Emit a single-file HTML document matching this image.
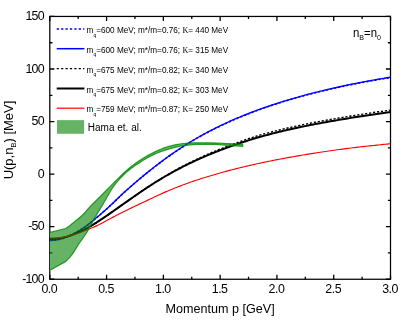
<!DOCTYPE html>
<html><head><meta charset="utf-8"><title>plot</title>
<style>
html,body{margin:0;padding:0;background:#fff;}
body{width:415px;height:321px;overflow:hidden;}
svg{display:block;will-change:transform;transform:translateZ(0);}
text{font-family:"Liberation Sans",sans-serif;fill:#000;}
.tl{font-size:12.4px;letter-spacing:-0.8px;}
.tx{font-size:12.4px;letter-spacing:-0.5px;}
.at{font-size:12px;}
.lg{font-size:8.2px;}
.sub{font-size:5px;}
</style></head><body>
<svg width="415" height="321" viewBox="0 0 415 321">
<rect x="0" y="0" width="415" height="321" fill="#fff"/>

<rect x="49.80" y="16.45" width="340.70" height="262.80" fill="none" stroke="#000" stroke-width="1.25"/>
<rect x="50.00" y="232.6" width="1.2" height="38.2" fill="#fff"/>
<path d="M49.80 279.25 v-4.60 M49.80 16.45 v4.60 M78.19 279.25 v-2.60 M78.19 16.45 v2.60 M106.58 279.25 v-4.60 M106.58 16.45 v4.60 M134.97 279.25 v-2.60 M134.97 16.45 v2.60 M163.37 279.25 v-4.60 M163.37 16.45 v4.60 M191.76 279.25 v-2.60 M191.76 16.45 v2.60 M220.15 279.25 v-4.60 M220.15 16.45 v4.60 M248.54 279.25 v-2.60 M248.54 16.45 v2.60 M276.93 279.25 v-4.60 M276.93 16.45 v4.60 M305.32 279.25 v-2.60 M305.32 16.45 v2.60 M333.72 279.25 v-4.60 M333.72 16.45 v4.60 M362.11 279.25 v-2.60 M362.11 16.45 v2.60 M390.50 279.25 v-4.60 M390.50 16.45 v4.60 M49.80 279.25 h4.60 M390.50 279.25 h-4.60 M49.80 252.97 h2.60 M390.50 252.97 h-2.60 M49.80 226.69 h4.60 M390.50 226.69 h-4.60 M49.80 200.41 h2.60 M390.50 200.41 h-2.60 M49.80 174.13 h4.60 M390.50 174.13 h-4.60 M49.80 147.85 h2.60 M390.50 147.85 h-2.60 M49.80 121.57 h4.60 M390.50 121.57 h-4.60 M49.80 95.29 h2.60 M390.50 95.29 h-2.60 M49.80 69.01 h4.60 M390.50 69.01 h-4.60 M49.80 42.73 h2.60 M390.50 42.73 h-2.60 M49.80 16.45 h4.60 M390.50 16.45 h-4.60" stroke="#000" stroke-width="1.3" fill="none"/>
<g fill="none" stroke-linejoin="round">
<path d="M49.80 240.41 L51.51 240.37 L53.22 240.27 L54.94 240.09 L56.65 239.85 L58.36 239.53 L60.07 239.15 L61.78 238.69 L63.50 238.17 L65.21 237.59 L66.92 236.94 L68.63 236.23 L70.34 235.45 L72.06 234.62 L73.77 233.74 L75.48 232.80 L77.19 231.81 L78.91 230.81 L80.62 229.78 L82.33 228.69 L84.04 227.54 L85.75 226.31 L87.47 225.03 L89.18 223.72 L90.89 222.37 L92.60 220.99 L94.31 219.58 L96.03 218.15 L97.74 216.70 L99.45 215.24 L101.16 213.76 L102.87 212.28 L104.59 210.79 L106.30 209.28 L108.01 207.75 L109.72 206.18 L111.43 204.58 L113.15 202.96 L114.86 201.31 L116.57 199.66 L118.28 198.00 L119.99 196.36 L121.71 194.73 L123.42 193.12 L125.13 191.55 L126.84 190.01 L128.55 188.50 L130.27 186.99 L131.98 185.49 L133.69 184.01 L135.40 182.54 L137.12 181.08 L138.83 179.64 L140.54 178.20 L142.25 176.79 L143.96 175.38 L145.68 173.98 L147.39 172.60 L149.10 171.23 L150.81 169.87 L152.52 168.52 L154.24 167.18 L155.95 165.86 L157.66 164.54 L159.37 163.24 L161.08 161.96 L162.80 160.68 L164.51 159.42 L166.22 158.18 L167.93 156.94 L169.64 155.73 L171.36 154.52 L173.07 153.33 L174.78 152.15 L176.49 150.99 L178.20 149.85 L179.92 148.71 L181.63 147.59 L183.34 146.49 L185.05 145.40 L186.76 144.32 L188.48 143.26 L190.19 142.21 L191.90 141.18 L193.61 140.16 L195.33 139.15 L197.04 138.16 L198.75 137.19 L200.46 136.22 L202.17 135.27 L203.89 134.34 L205.60 133.41 L207.31 132.50 L209.02 131.60 L210.73 130.71 L212.45 129.83 L214.16 128.96 L215.87 128.11 L217.58 127.27 L219.29 126.43 L221.01 125.61 L222.72 124.80 L224.43 124.00 L226.14 123.21 L227.85 122.43 L229.57 121.66 L231.28 120.90 L232.99 120.14 L234.70 119.40 L236.41 118.67 L238.13 117.94 L239.84 117.23 L241.55 116.52 L243.26 115.83 L244.97 115.14 L246.69 114.46 L248.40 113.78 L250.11 113.12 L251.82 112.46 L253.54 111.81 L255.25 111.17 L256.96 110.54 L258.67 109.91 L260.38 109.29 L262.10 108.68 L263.81 108.08 L265.52 107.48 L267.23 106.89 L268.94 106.30 L270.66 105.73 L272.37 105.15 L274.08 104.59 L275.79 104.03 L277.50 103.48 L279.22 102.93 L280.93 102.39 L282.64 101.86 L284.35 101.33 L286.06 100.81 L287.78 100.30 L289.49 99.79 L291.20 99.28 L292.91 98.78 L294.62 98.29 L296.34 97.80 L298.05 97.32 L299.76 96.84 L301.47 96.37 L303.18 95.90 L304.90 95.44 L306.61 94.98 L308.32 94.53 L310.03 94.08 L311.75 93.64 L313.46 93.20 L315.17 92.76 L316.88 92.33 L318.59 91.91 L320.31 91.49 L322.02 91.07 L323.73 90.66 L325.44 90.26 L327.15 89.85 L328.87 89.45 L330.58 89.06 L332.29 88.67 L334.00 88.28 L335.71 87.90 L337.43 87.52 L339.14 87.15 L340.85 86.78 L342.56 86.41 L344.27 86.05 L345.99 85.69 L347.70 85.34 L349.41 84.99 L351.12 84.64 L352.83 84.30 L354.55 83.96 L356.26 83.62 L357.97 83.29 L359.68 82.96 L361.39 82.63 L363.11 82.31 L364.82 81.99 L366.53 81.67 L368.24 81.36 L369.96 81.05 L371.67 80.74 L373.38 80.44 L375.09 80.14 L376.80 79.84 L378.52 79.54 L380.23 79.25 L381.94 78.96 L383.65 78.67 L385.36 78.39 L387.08 78.11 L388.79 77.83 L390.50 77.55" stroke="#0000ff" stroke-width="1.6" stroke-dasharray="2.2 1.9"/>
<path d="M49.80 240.41 L51.51 240.37 L53.22 240.27 L54.94 240.09 L56.65 239.84 L58.36 239.52 L60.07 239.14 L61.78 238.68 L63.50 238.16 L65.21 237.57 L66.92 236.92 L68.63 236.21 L70.34 235.43 L72.06 234.60 L73.77 233.71 L75.48 232.77 L77.19 231.79 L78.91 230.78 L80.62 229.75 L82.33 228.66 L84.04 227.51 L85.75 226.27 L87.47 224.99 L89.18 223.68 L90.89 222.33 L92.60 220.94 L94.31 219.54 L96.03 218.10 L97.74 216.65 L99.45 215.19 L101.16 213.71 L102.87 212.22 L104.59 210.73 L106.30 209.22 L108.01 207.69 L109.72 206.12 L111.43 204.52 L113.15 202.89 L114.86 201.24 L116.57 199.59 L118.28 197.93 L119.99 196.29 L121.71 194.65 L123.42 193.05 L125.13 191.47 L126.84 189.94 L128.55 188.41 L130.27 186.91 L131.98 185.41 L133.69 183.92 L135.40 182.45 L137.12 180.99 L138.83 179.55 L140.54 178.11 L142.25 176.69 L143.96 175.28 L145.68 173.88 L147.39 172.50 L149.10 171.13 L150.81 169.77 L152.52 168.42 L154.24 167.08 L155.95 165.75 L157.66 164.43 L159.37 163.13 L161.08 161.84 L162.80 160.57 L164.51 159.31 L166.22 158.06 L167.93 156.82 L169.64 155.60 L171.36 154.40 L173.07 153.20 L174.78 152.03 L176.49 150.86 L178.20 149.71 L179.92 148.58 L181.63 147.46 L183.34 146.35 L185.05 145.26 L186.76 144.18 L188.48 143.12 L190.19 142.07 L191.90 141.03 L193.61 140.01 L195.33 139.00 L197.04 138.01 L198.75 137.03 L200.46 136.07 L202.17 135.12 L203.89 134.18 L205.60 133.25 L207.31 132.34 L209.02 131.43 L210.73 130.54 L212.45 129.66 L214.16 128.80 L215.87 127.94 L217.58 127.09 L219.29 126.26 L221.01 125.44 L222.72 124.62 L224.43 123.82 L226.14 123.03 L227.85 122.24 L229.57 121.47 L231.28 120.71 L232.99 119.96 L234.70 119.21 L236.41 118.48 L238.13 117.75 L239.84 117.03 L241.55 116.33 L243.26 115.63 L244.97 114.94 L246.69 114.25 L248.40 113.58 L250.11 112.91 L251.82 112.25 L253.54 111.60 L255.25 110.96 L256.96 110.33 L258.67 109.70 L260.38 109.08 L262.10 108.46 L263.81 107.86 L265.52 107.26 L267.23 106.66 L268.94 106.08 L270.66 105.50 L272.37 104.93 L274.08 104.36 L275.79 103.80 L277.50 103.25 L279.22 102.70 L280.93 102.16 L282.64 101.62 L284.35 101.09 L286.06 100.57 L287.78 100.05 L289.49 99.54 L291.20 99.03 L292.91 98.53 L294.62 98.04 L296.34 97.55 L298.05 97.06 L299.76 96.58 L301.47 96.11 L303.18 95.64 L304.90 95.17 L306.61 94.72 L308.32 94.26 L310.03 93.81 L311.75 93.37 L313.46 92.93 L315.17 92.49 L316.88 92.06 L318.59 91.63 L320.31 91.21 L322.02 90.79 L323.73 90.38 L325.44 89.97 L327.15 89.57 L328.87 89.17 L330.58 88.77 L332.29 88.38 L334.00 87.99 L335.71 87.61 L337.43 87.23 L339.14 86.85 L340.85 86.48 L342.56 86.11 L344.27 85.75 L345.99 85.39 L347.70 85.03 L349.41 84.68 L351.12 84.33 L352.83 83.99 L354.55 83.65 L356.26 83.31 L357.97 82.97 L359.68 82.64 L361.39 82.31 L363.11 81.99 L364.82 81.67 L366.53 81.35 L368.24 81.03 L369.96 80.72 L371.67 80.41 L373.38 80.11 L375.09 79.80 L376.80 79.50 L378.52 79.20 L380.23 78.91 L381.94 78.62 L383.65 78.33 L385.36 78.04 L387.08 77.76 L388.79 77.48 L390.50 77.20" stroke="#0000ff" stroke-width="1.35"/>
<path d="M49.80 239.10 L51.51 239.07 L53.22 239.00 L54.94 238.87 L56.65 238.70 L58.36 238.47 L60.07 238.20 L61.78 237.88 L63.50 237.51 L65.21 237.09 L66.92 236.63 L68.63 236.12 L70.34 235.57 L72.06 234.97 L73.77 234.33 L75.48 233.65 L77.19 232.94 L78.91 232.22 L80.62 231.48 L82.33 230.69 L84.04 229.85 L85.75 228.94 L87.47 227.99 L89.18 227.00 L90.89 225.99 L92.60 224.95 L94.31 223.88 L96.03 222.80 L97.74 221.70 L99.45 220.58 L101.16 219.45 L102.87 218.31 L104.59 217.16 L106.30 216.00 L108.01 214.82 L109.72 213.63 L111.43 212.44 L113.15 211.24 L114.86 210.03 L116.57 208.83 L118.28 207.62 L119.99 206.40 L121.71 205.19 L123.42 203.98 L125.13 202.77 L126.84 201.56 L128.55 200.35 L130.27 199.15 L131.98 197.95 L133.69 196.76 L135.40 195.57 L137.12 194.39 L138.83 193.21 L140.54 192.04 L142.25 190.88 L143.96 189.73 L145.68 188.59 L147.39 187.45 L149.10 186.33 L150.81 185.22 L152.52 184.12 L154.24 183.03 L155.95 181.93 L157.66 180.83 L159.37 179.75 L161.08 178.68 L162.80 177.62 L164.51 176.58 L166.22 175.55 L167.93 174.53 L169.64 173.53 L171.36 172.54 L173.07 171.57 L174.78 170.61 L176.49 169.66 L178.20 168.72 L179.92 167.80 L181.63 166.88 L183.34 165.98 L185.05 165.09 L186.76 164.22 L188.48 163.35 L190.19 162.49 L191.90 161.64 L193.61 160.81 L195.33 159.98 L197.04 159.16 L198.75 158.35 L200.46 157.56 L202.17 156.77 L203.89 155.99 L205.60 155.23 L207.31 154.47 L209.02 153.73 L210.73 152.99 L212.45 152.27 L214.16 151.55 L215.87 150.84 L217.58 150.14 L219.29 149.45 L221.01 148.77 L222.72 148.10 L224.43 147.43 L226.14 146.77 L227.85 146.12 L229.57 145.47 L231.28 144.82 L232.99 144.19 L234.70 143.55 L236.41 142.93 L238.13 142.31 L239.84 141.69 L241.55 141.09 L243.26 140.49 L244.97 139.90 L246.69 139.31 L248.40 138.74 L250.11 138.17 L251.82 137.61 L253.54 137.06 L255.25 136.52 L256.96 135.99 L258.67 135.46 L260.38 134.95 L262.10 134.47 L263.81 133.99 L265.52 133.52 L267.23 133.06 L268.94 132.60 L270.66 132.15 L272.37 131.71 L274.08 131.27 L275.79 130.84 L277.50 130.41 L279.22 129.99 L280.93 129.58 L282.64 129.17 L284.35 128.76 L286.06 128.36 L287.78 127.97 L289.49 127.58 L291.20 127.20 L292.91 126.82 L294.62 126.44 L296.34 126.07 L298.05 125.70 L299.76 125.34 L301.47 124.98 L303.18 124.63 L304.90 124.28 L306.61 123.93 L308.32 123.59 L310.03 123.25 L311.75 122.92 L313.46 122.59 L315.17 122.26 L316.88 121.93 L318.59 121.61 L320.31 121.30 L322.02 120.98 L323.73 120.67 L325.44 120.36 L327.15 120.06 L328.87 119.75 L330.58 119.45 L332.29 119.15 L334.00 118.86 L335.71 118.56 L337.43 118.27 L339.14 117.98 L340.85 117.69 L342.56 117.41 L344.27 117.12 L345.99 116.84 L347.70 116.56 L349.41 116.28 L351.12 116.00 L352.83 115.73 L354.55 115.45 L356.26 115.18 L357.97 114.91 L359.68 114.64 L361.39 114.38 L363.11 114.11 L364.82 113.85 L366.53 113.59 L368.24 113.33 L369.96 113.07 L371.67 112.82 L373.38 112.56 L375.09 112.31 L376.80 112.06 L378.52 111.81 L380.23 111.57 L381.94 111.32 L383.65 111.08 L385.36 110.84 L387.08 110.60 L388.79 110.36 L390.50 110.12" stroke="#000" stroke-width="1.4" stroke-dasharray="2.2 1.8"/>
<path d="M49.80 239.10 L51.51 239.07 L53.22 239.00 L54.94 238.87 L56.65 238.70 L58.36 238.47 L60.07 238.20 L61.78 237.88 L63.50 237.51 L65.21 237.09 L66.92 236.63 L68.63 236.12 L70.34 235.57 L72.06 234.97 L73.77 234.33 L75.48 233.65 L77.19 232.94 L78.91 232.22 L80.62 231.48 L82.33 230.69 L84.04 229.85 L85.75 228.94 L87.47 227.99 L89.18 227.00 L90.89 225.99 L92.60 224.95 L94.31 223.88 L96.03 222.80 L97.74 221.70 L99.45 220.58 L101.16 219.45 L102.87 218.31 L104.59 217.16 L106.30 216.00 L108.01 214.82 L109.72 213.63 L111.43 212.44 L113.15 211.24 L114.86 210.03 L116.57 208.83 L118.28 207.62 L119.99 206.40 L121.71 205.19 L123.42 203.98 L125.13 202.77 L126.84 201.56 L128.55 200.35 L130.27 199.15 L131.98 197.95 L133.69 196.76 L135.40 195.57 L137.12 194.39 L138.83 193.21 L140.54 192.04 L142.25 190.88 L143.96 189.73 L145.68 188.59 L147.39 187.45 L149.10 186.33 L150.81 185.22 L152.52 184.12 L154.24 183.03 L155.95 181.95 L157.66 180.88 L159.37 179.83 L161.08 178.79 L162.80 177.76 L164.51 176.75 L166.22 175.75 L167.93 174.76 L169.64 173.79 L171.36 172.83 L173.07 171.89 L174.78 170.96 L176.49 170.04 L178.20 169.13 L179.92 168.24 L181.63 167.35 L183.34 166.48 L185.05 165.62 L186.76 164.78 L188.48 163.94 L190.19 163.11 L191.90 162.29 L193.61 161.49 L195.33 160.69 L197.04 159.90 L198.75 159.12 L200.46 158.36 L202.17 157.60 L203.89 156.86 L205.60 156.12 L207.31 155.40 L209.02 154.68 L210.73 153.97 L212.45 153.28 L214.16 152.59 L215.87 151.91 L217.58 151.25 L219.29 150.58 L221.01 149.93 L222.72 149.29 L224.43 148.65 L226.14 148.02 L227.85 147.40 L229.57 146.78 L231.28 146.17 L232.99 145.56 L234.70 144.96 L236.41 144.36 L238.13 143.77 L239.84 143.19 L241.55 142.61 L243.26 142.04 L244.97 141.48 L246.69 140.93 L248.40 140.38 L250.11 139.85 L251.82 139.32 L253.54 138.80 L255.25 138.29 L256.96 137.78 L258.67 137.29 L260.38 136.80 L262.10 136.32 L263.81 135.84 L265.52 135.37 L267.23 134.91 L268.94 134.45 L270.66 134.00 L272.37 133.56 L274.08 133.12 L275.79 132.69 L277.50 132.26 L279.22 131.84 L280.93 131.43 L282.64 131.02 L284.35 130.61 L286.06 130.21 L287.78 129.82 L289.49 129.43 L291.20 129.05 L292.91 128.67 L294.62 128.29 L296.34 127.92 L298.05 127.55 L299.76 127.19 L301.47 126.83 L303.18 126.48 L304.90 126.13 L306.61 125.78 L308.32 125.44 L310.03 125.10 L311.75 124.77 L313.46 124.44 L315.17 124.11 L316.88 123.78 L318.59 123.46 L320.31 123.15 L322.02 122.83 L323.73 122.52 L325.44 122.21 L327.15 121.91 L328.87 121.60 L330.58 121.30 L332.29 121.00 L334.00 120.71 L335.71 120.41 L337.43 120.12 L339.14 119.83 L340.85 119.54 L342.56 119.26 L344.27 118.97 L345.99 118.69 L347.70 118.41 L349.41 118.13 L351.12 117.85 L352.83 117.58 L354.55 117.30 L356.26 117.03 L357.97 116.76 L359.68 116.49 L361.39 116.23 L363.11 115.96 L364.82 115.70 L366.53 115.44 L368.24 115.18 L369.96 114.92 L371.67 114.67 L373.38 114.41 L375.09 114.16 L376.80 113.91 L378.52 113.66 L380.23 113.42 L381.94 113.17 L383.65 112.93 L385.36 112.69 L387.08 112.45 L388.79 112.21 L390.50 111.97" stroke="#000" stroke-width="2.0"/>
<path d="M49.80 237.98 L51.51 238.04 L53.22 238.04 L54.94 238.00 L56.65 237.92 L58.36 237.78 L60.07 237.60 L61.78 237.37 L63.50 237.10 L65.21 236.79 L66.92 236.43 L68.63 236.04 L70.34 235.60 L72.06 235.13 L73.77 234.63 L75.48 234.09 L77.19 233.52 L78.91 232.92 L80.62 232.29 L82.33 231.64 L84.04 230.97 L85.75 230.29 L87.47 229.62 L89.18 228.95 L90.89 228.28 L92.60 227.59 L94.31 226.88 L96.03 226.13 L97.74 225.35 L99.45 224.51 L101.16 223.61 L102.87 222.67 L104.59 221.71 L106.30 220.75 L108.01 219.83 L109.72 218.92 L111.43 218.02 L113.15 217.13 L114.86 216.24 L116.57 215.35 L118.28 214.47 L119.99 213.60 L121.71 212.73 L123.42 211.86 L125.13 211.01 L126.84 210.16 L128.55 209.31 L130.27 208.47 L131.98 207.64 L133.69 206.81 L135.40 205.99 L137.12 205.17 L138.83 204.36 L140.54 203.56 L142.25 202.75 L143.96 201.96 L145.68 201.17 L147.39 200.37 L149.10 199.56 L150.81 198.74 L152.52 197.92 L154.24 197.09 L155.95 196.28 L157.66 195.47 L159.37 194.68 L161.08 193.91 L162.80 193.15 L164.51 192.39 L166.22 191.65 L167.93 190.91 L169.64 190.19 L171.36 189.48 L173.07 188.78 L174.78 188.09 L176.49 187.41 L178.20 186.75 L179.92 186.09 L181.63 185.44 L183.34 184.80 L185.05 184.17 L186.76 183.55 L188.48 182.93 L190.19 182.33 L191.90 181.73 L193.61 181.14 L195.33 180.56 L197.04 179.99 L198.75 179.43 L200.46 178.87 L202.17 178.32 L203.89 177.78 L205.60 177.25 L207.31 176.72 L209.02 176.20 L210.73 175.69 L212.45 175.19 L214.16 174.68 L215.87 174.19 L217.58 173.70 L219.29 173.22 L221.01 172.74 L222.72 172.27 L224.43 171.80 L226.14 171.34 L227.85 170.88 L229.57 170.43 L231.28 169.98 L232.99 169.54 L234.70 169.10 L236.41 168.66 L238.13 168.23 L239.84 167.80 L241.55 167.38 L243.26 166.96 L244.97 166.55 L246.69 166.14 L248.40 165.74 L250.11 165.34 L251.82 164.95 L253.54 164.57 L255.25 164.19 L256.96 163.81 L258.67 163.44 L260.38 163.07 L262.10 162.71 L263.81 162.35 L265.52 161.99 L267.23 161.64 L268.94 161.29 L270.66 160.95 L272.37 160.61 L274.08 160.27 L275.79 159.93 L277.50 159.60 L279.22 159.27 L280.93 158.95 L282.64 158.63 L284.35 158.31 L286.06 157.99 L287.78 157.68 L289.49 157.37 L291.20 157.06 L292.91 156.76 L294.62 156.46 L296.34 156.16 L298.05 155.86 L299.76 155.57 L301.47 155.28 L303.18 155.00 L304.90 154.71 L306.61 154.43 L308.32 154.15 L310.03 153.87 L311.75 153.60 L313.46 153.33 L315.17 153.06 L316.88 152.79 L318.59 152.52 L320.31 152.26 L322.02 152.00 L323.73 151.74 L325.44 151.49 L327.15 151.24 L328.87 150.98 L330.58 150.74 L332.29 150.49 L334.00 150.25 L335.71 150.01 L337.43 149.77 L339.14 149.54 L340.85 149.31 L342.56 149.09 L344.27 148.86 L345.99 148.64 L347.70 148.43 L349.41 148.21 L351.12 148.00 L352.83 147.79 L354.55 147.59 L356.26 147.39 L357.97 147.19 L359.68 146.99 L361.39 146.79 L363.11 146.60 L364.82 146.41 L366.53 146.22 L368.24 146.03 L369.96 145.85 L371.67 145.67 L373.38 145.49 L375.09 145.31 L376.80 145.13 L378.52 144.96 L380.23 144.78 L381.94 144.61 L383.65 144.44 L385.36 144.27 L387.08 144.11 L388.79 143.94 L390.50 143.78" stroke="#ff0000" stroke-width="1.15"/>
</g>
<path d="M50.00 232.40 L65.80 228.50 L70.00 225.39 L72.00 223.83 L74.00 222.24 L76.00 220.60 L78.00 218.94 L80.00 217.23 L82.00 215.43 L84.00 213.50 L86.00 211.32 L88.00 209.02 L90.00 206.80 L92.00 204.72 L94.00 202.70 L96.00 200.72 L98.00 198.76 L100.00 196.79 L102.00 194.80 L104.00 192.78 L106.00 190.74 L108.00 188.69 L110.00 186.64 L112.00 184.60 L114.00 182.59 L116.00 180.61 L118.00 178.61 L120.00 176.61 L122.00 174.64 L124.00 172.73 L126.00 170.91 L128.00 169.20 L130.00 167.56 L132.00 165.98 L134.00 164.46 L136.00 163.01 L138.00 161.61 L140.00 160.27 L142.00 158.97 L144.00 157.72 L146.00 156.51 L148.00 155.35 L150.00 154.26 L152.00 153.25 L154.00 152.28 L156.00 151.34 L158.00 150.42 L160.00 149.54 L162.00 148.71 L164.00 147.95 L166.00 147.25 L168.00 146.64 L170.00 146.12 L172.00 145.62 L174.00 145.15 L176.00 144.72 L178.00 144.33 L180.00 144.00 L182.00 143.74 L184.00 143.55 L186.00 143.38 L188.00 143.22 L190.00 143.08 L192.00 142.96 L194.00 142.87 L196.00 142.82 L198.00 142.80 L200.00 142.80 L202.00 142.81 L204.00 142.82 L206.00 142.84 L208.00 142.85 L210.00 142.87 L212.00 142.90 L214.00 142.94 L216.00 143.01 L218.00 143.11 L220.00 143.22 L222.00 143.34 L224.00 143.46 L226.00 143.56 L228.00 143.65 L230.00 143.73 L232.00 143.81 L234.00 143.89 L236.00 143.97 L238.00 144.04 L240.00 144.11 L242.00 144.18 L242.70 144.20 L242.70 146.40 L242.00 146.34 L240.00 146.17 L238.00 146.01 L236.00 145.85 L234.00 145.70 L232.00 145.55 L230.00 145.41 L228.00 145.28 L226.00 145.15 L224.00 145.01 L222.00 144.86 L220.00 144.72 L218.00 144.59 L216.00 144.48 L214.00 144.42 L212.00 144.40 L210.00 144.40 L208.00 144.40 L206.00 144.40 L204.00 144.40 L202.00 144.40 L200.00 144.40 L198.00 144.40 L196.00 144.43 L194.00 144.53 L192.00 144.68 L190.00 144.88 L188.00 145.11 L186.00 145.36 L184.00 145.62 L182.00 145.90 L180.00 146.24 L178.00 146.65 L176.00 147.11 L174.00 147.61 L172.00 148.15 L170.00 148.73 L168.00 149.32 L166.00 149.93 L164.00 150.55 L162.00 151.22 L160.00 151.94 L158.00 152.72 L156.00 153.54 L154.00 154.42 L152.00 155.34 L150.00 156.35 L148.00 157.44 L146.00 158.61 L144.00 159.83 L142.00 161.09 L140.00 162.37 L138.00 163.66 L136.00 164.98 L134.00 166.34 L132.00 167.77 L130.00 169.28 L128.00 170.89 L126.00 172.62 L124.00 174.47 L122.00 176.45 L120.00 178.55 L118.00 180.81 L116.00 183.21 L114.00 185.80 L112.00 188.76 L110.00 192.01 L108.00 195.45 L106.00 198.97 L104.00 202.46 L102.00 205.83 L100.00 209.11 L98.00 212.41 L96.00 215.78 L94.00 219.34 L92.00 223.07 L90.00 226.81 L88.00 230.38 L86.00 233.60 L84.00 236.52 L82.00 239.31 L80.00 242.12 L78.00 245.16 L76.00 248.43 L74.00 251.68 L72.00 254.62 L70.00 257.10 L65.80 261.40 L50.00 270.30 Z" fill="#008000" fill-opacity="0.6" stroke="none"/>
<path d="M50.00 232.40 L65.80 228.50 L70.00 225.39 L72.00 223.83 L74.00 222.24 L76.00 220.60 L78.00 218.94 L80.00 217.23 L82.00 215.43 L84.00 213.50 L86.00 211.32 L88.00 209.02 L90.00 206.80 L92.00 204.72 L94.00 202.70 L96.00 200.72 L98.00 198.76 L100.00 196.79 L102.00 194.80 L104.00 192.78 L106.00 190.74 L108.00 188.69 L110.00 186.64 L112.00 184.60 L114.00 182.59 L116.00 180.61 L118.00 178.61 L120.00 176.61 L122.00 174.64 L124.00 172.73 L126.00 170.91 L128.00 169.20 L130.00 167.56 L132.00 165.98 L134.00 164.46 L136.00 163.01 L138.00 161.61 L140.00 160.27 L142.00 158.97 L144.00 157.72 L146.00 156.51 L148.00 155.35 L150.00 154.26 L152.00 153.25 L154.00 152.28 L156.00 151.34 L158.00 150.42 L160.00 149.54 L162.00 148.71 L164.00 147.95 L166.00 147.25 L168.00 146.64 L170.00 146.12 L172.00 145.62 L174.00 145.15 L176.00 144.72 L178.00 144.33 L180.00 144.00 L182.00 143.74 L184.00 143.55 L186.00 143.38 L188.00 143.22 L190.00 143.08 L192.00 142.96 L194.00 142.87 L196.00 142.82 L198.00 142.80 L200.00 142.80 L202.00 142.81 L204.00 142.82 L206.00 142.84 L208.00 142.85 L210.00 142.87 L212.00 142.90 L214.00 142.94 L216.00 143.01 L218.00 143.11 L220.00 143.22 L222.00 143.34 L224.00 143.46 L226.00 143.56 L228.00 143.65 L230.00 143.73 L232.00 143.81 L234.00 143.89 L236.00 143.97 L238.00 144.04 L240.00 144.11 L242.00 144.18 L242.70 144.20 L242.70 146.40 L242.00 146.34 L240.00 146.17 L238.00 146.01 L236.00 145.85 L234.00 145.70 L232.00 145.55 L230.00 145.41 L228.00 145.28 L226.00 145.15 L224.00 145.01 L222.00 144.86 L220.00 144.72 L218.00 144.59 L216.00 144.48 L214.00 144.42 L212.00 144.40 L210.00 144.40 L208.00 144.40 L206.00 144.40 L204.00 144.40 L202.00 144.40 L200.00 144.40 L198.00 144.40 L196.00 144.43 L194.00 144.53 L192.00 144.68 L190.00 144.88 L188.00 145.11 L186.00 145.36 L184.00 145.62 L182.00 145.90 L180.00 146.24 L178.00 146.65 L176.00 147.11 L174.00 147.61 L172.00 148.15 L170.00 148.73 L168.00 149.32 L166.00 149.93 L164.00 150.55 L162.00 151.22 L160.00 151.94 L158.00 152.72 L156.00 153.54 L154.00 154.42 L152.00 155.34 L150.00 156.35 L148.00 157.44 L146.00 158.61 L144.00 159.83 L142.00 161.09 L140.00 162.37 L138.00 163.66 L136.00 164.98 L134.00 166.34 L132.00 167.77 L130.00 169.28 L128.00 170.89 L126.00 172.62 L124.00 174.47 L122.00 176.45 L120.00 178.55 L118.00 180.81 L116.00 183.21 L114.00 185.80 L112.00 188.76 L110.00 192.01 L108.00 195.45 L106.00 198.97 L104.00 202.46 L102.00 205.83 L100.00 209.11 L98.00 212.41 L96.00 215.78 L94.00 219.34 L92.00 223.07 L90.00 226.81 L88.00 230.38 L86.00 233.60 L84.00 236.52 L82.00 239.31 L80.00 242.12 L78.00 245.16 L76.00 248.43 L74.00 251.68 L72.00 254.62 L70.00 257.10 L65.80 261.40 L50.00 270.30" fill="none" stroke="#008c00" stroke-opacity="0.8" stroke-width="1.25" stroke-linejoin="round"/>
<text class="tx" x="49.30" y="293.1" text-anchor="middle">0.0</text>
<text class="tx" x="106.08" y="293.1" text-anchor="middle">0.5</text>
<text class="tx" x="162.87" y="293.1" text-anchor="middle">1.0</text>
<text class="tx" x="219.65" y="293.1" text-anchor="middle">1.5</text>
<text class="tx" x="276.43" y="293.1" text-anchor="middle">2.0</text>
<text class="tx" x="333.22" y="293.1" text-anchor="middle">2.5</text>
<text class="tx" x="390.00" y="293.1" text-anchor="middle">3.0</text>
<text class="tl" x="43.8" y="282.95" text-anchor="end">-100</text>
<text class="tl" x="43.8" y="230.39" text-anchor="end">-50</text>
<text class="tl" x="43.8" y="177.83" text-anchor="end">0</text>
<text class="tl" x="43.8" y="125.27" text-anchor="end">50</text>
<text class="tl" x="43.8" y="72.71" text-anchor="end">100</text>
<text class="tl" x="43.8" y="20.15" text-anchor="end">150</text>
<text class="at" x="220.1" y="312.7" font-size="12.6" text-anchor="middle" style="font-size:12.6px">Momentum p [GeV]</text>
<text class="at" style="font-size:13px" transform="translate(13.3 140) rotate(-90)" text-anchor="middle">U(p,n<tspan font-size="7.5" dy="2.5">B</tspan><tspan dy="-2.5">) [MeV]</tspan></text>
<text class="at" transform="translate(352.9 36.6) scale(0.95 1)">n<tspan font-size="7.5" dy="3.5">B</tspan><tspan dy="-3.5">=n</tspan><tspan font-size="7.5" dy="3.5">0</tspan></text>
<path d="M56.7 29.00 H84.4" stroke="#0000ff" stroke-width="1.7" stroke-dasharray="2.3 2.1" fill="none"/>
<text class="lg" x="86.6" y="33.20">m<tspan class="sub" dy="3.3">q</tspan><tspan dy="-3.3">=600 MeV; m*/m=0.76; <tspan font-family="Liberation Serif">K</tspan>= 440 MeV</tspan></text>
<path d="M56.7 48.70 H84.4" stroke="#0000ff" stroke-width="1.5" fill="none"/>
<text class="lg" x="86.6" y="52.90">m<tspan class="sub" dy="3.3">q</tspan><tspan dy="-3.3">=600 MeV; m*/m=0.76; <tspan font-family="Liberation Serif">K</tspan>= 315 MeV</tspan></text>
<path d="M56.7 68.60 H84.4" stroke="#000" stroke-width="1.3" stroke-dasharray="2.2 2.2" fill="none"/>
<text class="lg" x="86.6" y="72.80">m<tspan class="sub" dy="3.3">q</tspan><tspan dy="-3.3">=675 MeV; m*/m=0.82; <tspan font-family="Liberation Serif">K</tspan>= 340 MeV</tspan></text>
<path d="M56.7 88.50 H84.4" stroke="#000" stroke-width="2.0" fill="none"/>
<text class="lg" x="86.6" y="92.70">m<tspan class="sub" dy="3.3">q</tspan><tspan dy="-3.3">=675 MeV; m*/m=0.82; <tspan font-family="Liberation Serif">K</tspan>= 303 MeV</tspan></text>
<path d="M56.7 108.20 H84.4" stroke="#ff0000" stroke-width="1.2" fill="none"/>
<text class="lg" x="86.6" y="112.40">m<tspan class="sub" dy="3.3">q</tspan><tspan dy="-3.3">=759 MeV; m*/m=0.87; <tspan font-family="Liberation Serif">K</tspan>= 250 MeV</tspan></text>
<rect x="57.3" y="120.5" width="26.5" height="12.9" fill="#008000" fill-opacity="0.6" stroke="#008000" stroke-opacity="0.45" stroke-width="0.7"/>
<text x="87.8" y="131.1" style="font-size:10px">Hama et. al.</text>
</svg></body></html>
